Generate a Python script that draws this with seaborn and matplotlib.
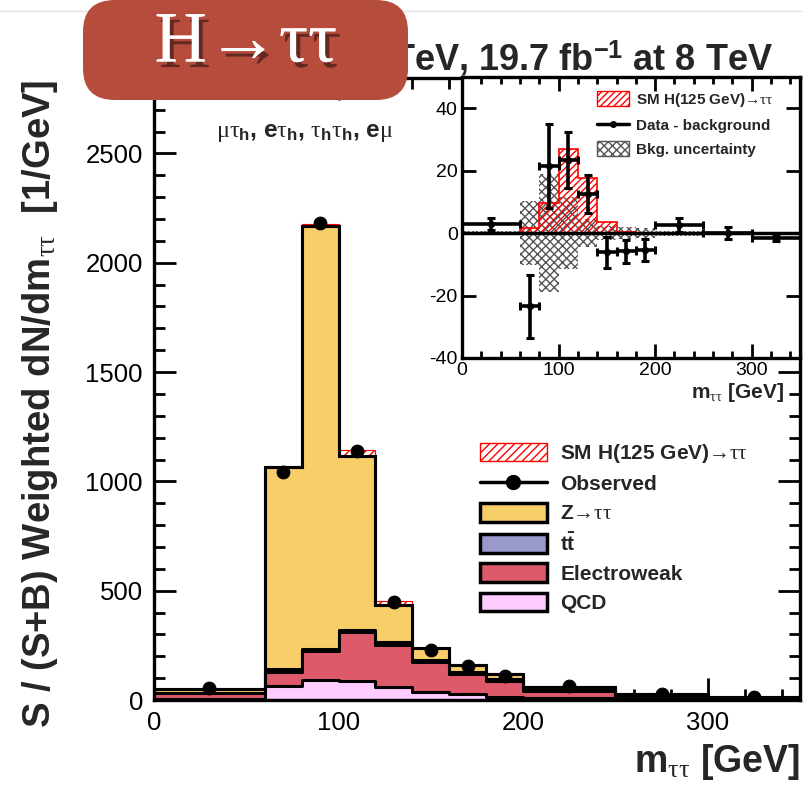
import numpy as np
import pandas as pd
import matplotlib
matplotlib.use("Agg")
import matplotlib.pyplot as plt
import matplotlib.patheffects as pe
import seaborn as sns
from matplotlib.patches import Patch, FancyBboxPatch
from matplotlib.lines import Line2D
from matplotlib.ticker import MultipleLocator

# ---------------- data ----------------
edges = [0, 60, 80, 100, 120, 140, 160, 180, 200, 250, 300, 350]
qcd = [5, 65, 90, 88, 60, 38, 26, 16, 7, 3, 1]
ewk = [25, 63, 132, 222, 190, 135, 92, 70, 33, 11, 4]
ttbar = [4, 12, 10, 10, 14, 12, 10, 8, 6, 4, 2]
ztt = [18, 925, 1936, 795, 171, 51, 33, 24, 13, 10, 8]
signal = [0.0, 1.6, 9.6, 26.9, 17.5, 3.5, 0.5, 0.0, 0.0, 0.0, 0.0]
observed = [55, 1042, 2180, 1138, 448, 230, 155, 112, 62, 28, 14]

diff = [3.0, -23.5, 21.5, 23.4, 12.6, -6.1, -5.8, -5.5, 2.7, 0.0, -1.6]
diff_err = [1.9, 10.0, 13.6, 9.0, 6.0, 5.0, 3.7, 3.5, 2.2, 1.9, 1.0]
bkg_unc = [0.7, 10.3, 19.0, 11.5, 4.6, 2.3, 1.8, 1.5, 0.8, 0.4, 0.3]

labels_main = ["SM H(125 GeV)\u2192$\\tau\\tau$", "Observed", "Z\u2192$\\tau\\tau$",
               r"t$\bar{\mathrm{t}}$", "Electroweak", "QCD"]
labels_inset = ["SM H(125 GeV)\u2192$\\tau\\tau$", "Data - background", "Bkg. uncertainty"]
colors = {"Z": "#F8CE68", "tt": "#9999CC", "EWK": "#DE5A6A", "QCD": "#FFCCFF"}

# ---------------- style ----------------
sns.set_theme(style="ticks")
plt.rcParams.update({
    "font.family": ["Liberation Sans", "DejaVu Sans"],
    "mathtext.fontset": "custom",
    "mathtext.rm": "Liberation Sans:bold",
    "mathtext.bf": "Liberation Sans:bold",
    "mathtext.it": "Liberation Serif",
    "mathtext.sf": "Liberation Sans",
    "hatch.linewidth": 1.0,
    "axes.facecolor": "white",
    "axes.unicode_minus": False,
})

W, H = 804, 787
fig = plt.figure(figsize=(W / 100, H / 100), dpi=100)
fig.patch.set_facecolor("white")


def fx(px):
    return px / W


def fy(py):
    return 1 - py / H


centers = [(a + b) / 2 for a, b in zip(edges[:-1], edges[1:])]
halfw = [(b - a) / 2 for a, b in zip(edges[:-1], edges[1:])]

# ---------------- main axes ----------------
ax = fig.add_axes([fx(154), fy(700), fx(800) - fx(154), fy(78) - fy(700)])

layers = [qcd, ewk, ttbar, ztt]
layer_cols = [colors["QCD"], colors["EWK"], colors["tt"], colors["Z"]]
cum = np.cumsum(np.array(layers, dtype=float), axis=0)
for i in reversed(range(len(layers))):
    sns.histplot(x=centers, weights=cum[i], bins=edges, element="step", fill=True,
                 color=layer_cols[i], alpha=1, edgecolor="black", linewidth=2.2, ax=ax)

bkg_tot = cum[-1]
ax.stairs(bkg_tot + np.array(signal), edges, baseline=bkg_tot, fill=True,
          facecolor="none", edgecolor="red", hatch="////", linewidth=0.8, zorder=4)
ax.stairs(bkg_tot, edges, color="black", linewidth=2.2, zorder=4)

sns.scatterplot(x=centers, y=observed, color="black", s=85, edgecolor="black",
                zorder=6, ax=ax, legend=False)

ax.set_xlim(0, 350)
ax.set_ylim(0, 2845)
ax.set_xlabel("")
ax.set_ylabel("")
ax.xaxis.set_major_locator(MultipleLocator(100))
ax.xaxis.set_minor_locator(MultipleLocator(20))
ax.yaxis.set_major_locator(MultipleLocator(500))
ax.yaxis.set_minor_locator(MultipleLocator(100))
ax.tick_params(which="both", direction="in", top=True, right=True, width=2, color="black",
               labelsize=18.5, labelcolor="black")
ax.tick_params(which="major", length=16, pad=8)
ax.tick_params(which="minor", length=8)
for s in ax.spines.values():
    s.set_linewidth(2.4)
    s.set_color("black")

handles = [
    Patch(facecolor="white", edgecolor="red", hatch="////", linewidth=1),
    Line2D([], [], color="black", lw=2.5, marker="o", ms=10),
    Patch(facecolor=colors["Z"], edgecolor="black", linewidth=2.5),
    Patch(facecolor=colors["tt"], edgecolor="black", linewidth=2.5),
    Patch(facecolor=colors["EWK"], edgecolor="black", linewidth=2.5),
    Patch(facecolor=colors["QCD"], edgecolor="black", linewidth=2.5),
]
ax.legend(handles, labels_main, loc="upper left", bbox_to_anchor=(fx(480), fy(442)),
          bbox_transform=fig.transFigure, frameon=False,
          prop={"weight": "bold", "size": 15}, handlelength=3.2, handleheight=1.0,
          labelspacing=0.42, handletextpad=0.65, borderpad=0, borderaxespad=0)

# ---------------- inset ----------------
axi = fig.add_axes([fx(462), fy(358), fx(800) - fx(462), fy(77) - fy(358)])
axi.set_facecolor("white")
axi.stairs(np.array(bkg_unc), edges, baseline=-np.array(bkg_unc), fill=True,
           facecolor="none", edgecolor="#555555", hatch="xxxx", linewidth=0, zorder=2)
axi.stairs(signal, edges, baseline=0, fill=True, facecolor="none", edgecolor="red",
           hatch="/////", linewidth=1.2, zorder=3)
axi.axhline(0, color="black", lw=2.5, zorder=4)
axi.errorbar(centers, diff, xerr=halfw, yerr=diff_err, fmt="none", ecolor="black",
             elinewidth=2.6, capsize=3, capthick=2.2, zorder=5)
sns.scatterplot(x=centers, y=diff, color="black", s=22, edgecolor="black", zorder=6,
                ax=axi, legend=False)
axi.set_xlim(0, 350)
axi.set_ylim(-40, 50)
axi.set_xlabel("")
axi.set_ylabel("")
axi.xaxis.set_major_locator(MultipleLocator(100))
axi.xaxis.set_minor_locator(MultipleLocator(20))
axi.yaxis.set_major_locator(MultipleLocator(20))
axi.tick_params(which="both", direction="in", top=True, right=True, width=2, color="black",
                labelsize=14, labelcolor="black")
axi.tick_params(which="major", length=10, pad=3)
axi.tick_params(which="minor", length=5)
for s in axi.spines.values():
    s.set_linewidth(2.4)
    s.set_color("black")

ih = [
    Patch(facecolor="white", edgecolor="red", hatch="/////", linewidth=1),
    Line2D([], [], color="black", lw=2.5, marker="o", ms=4),
    Patch(facecolor="white", edgecolor="#555555", hatch="xxxx", linewidth=1),
]
axi.legend(ih, labels_inset, loc="upper left", bbox_to_anchor=(fx(597), fy(91)),
           bbox_transform=fig.transFigure, frameon=False,
           prop={"weight": "bold", "size": 11}, handlelength=2.1, handleheight=1.1,
           labelspacing=0.55, handletextpad=0.45, borderpad=0, borderaxespad=0)

fig.text(fx(784), fy(392), r"m$_{\tau\tau}$ [GeV]", ha="right", va="center",
         fontsize=15, fontweight="bold")

# ---------------- texts ----------------
fig.text(fx(305), fy(132), r"$\mu\tau_{\mathrm{h}}$, e$\tau_{\mathrm{h}}$, $\tau_{\mathrm{h}}\tau_{\mathrm{h}}$, e$\mu$",
         ha="center", va="center", fontsize=17.5, fontweight="bold")

fig.text(fx(800), fy(762), r"m$_{\tau\tau}$ [GeV]", ha="right", va="center",
         fontsize=27, fontweight="bold")
fig.text(fx(40), fy(404), r"S / (S+B) Weighted dN/dm$_{\tau\tau}$  [1/GeV]", ha="center",
         va="center", rotation=90, fontsize=27.5, fontweight="bold")

fig.text(fx(773), fy(71), r"CMS, 4.9 fb$^{\mathrm{-1}}$ at 7 TeV, 19.7 fb$^{\mathrm{-1}}$ at 8 TeV",
         ha="right", va="baseline", fontsize=26, fontweight="bold")

# top slide edge line
fig.add_artist(Line2D([0, 1], [fy(11), fy(11)], transform=fig.transFigure, color="#e4e4e4", lw=1))

# red title box
box = FancyBboxPatch((fx(83), fy(100)), fx(408) - fx(83), fy(0) - fy(100),
                     boxstyle="round,pad=0,rounding_size=0.04", transform=fig.transFigure,
                     facecolor="#B54C3C", edgecolor="none", zorder=10)
box.set_clip_on(False)
fig.add_artist(box)
fig.text(fx(246), fy(44), "H\u2192\u03c4\u03c4", ha="center", va="center", fontsize=52,
         color="white", family=["Liberation Serif", "DejaVu Serif"], zorder=11,
         path_effects=[pe.withSimplePatchShadow(offset=(3, -4), shadow_rgbFace="black", alpha=0.45),
                       pe.Normal()])

fig.savefig("out.png", dpi=100, facecolor="white")
